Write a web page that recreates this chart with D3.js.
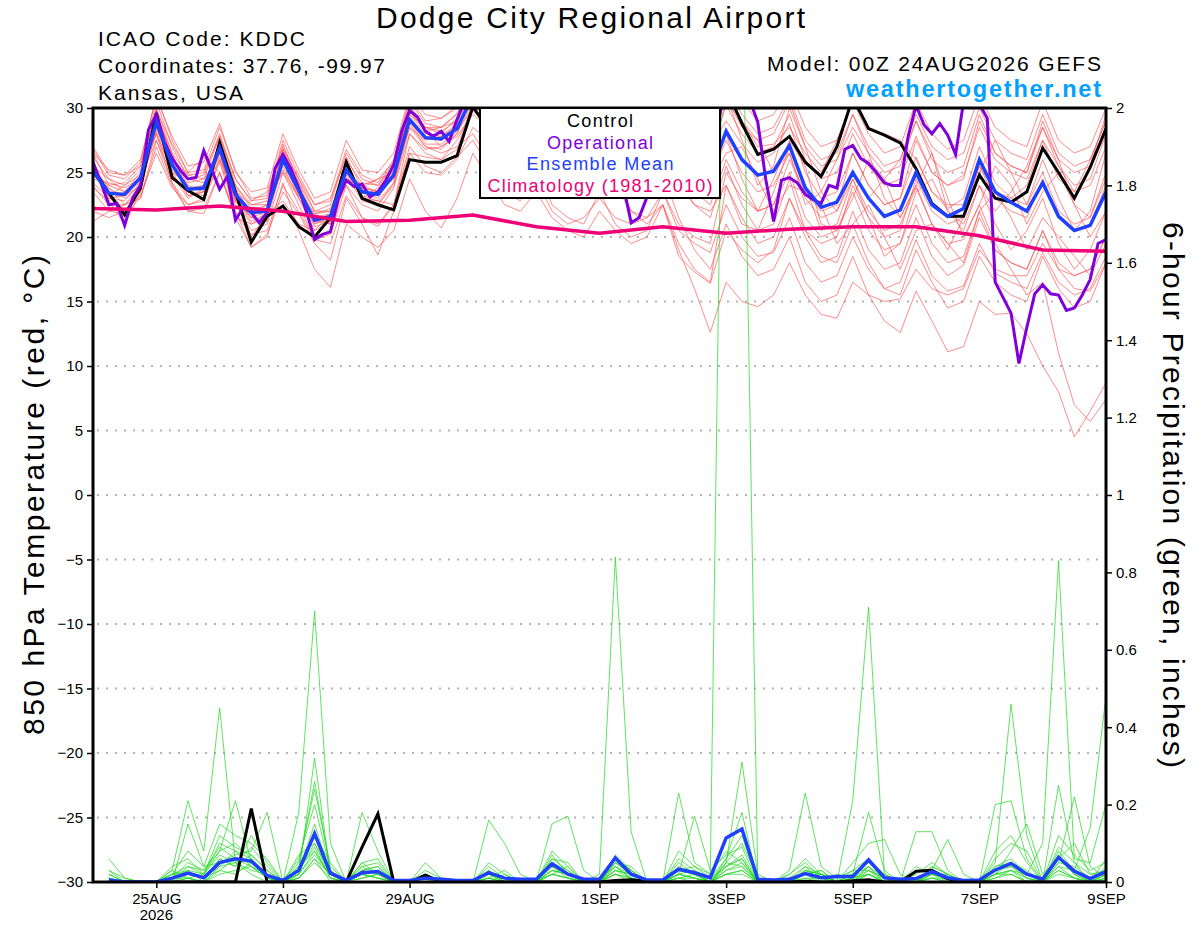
<!DOCTYPE html>
<html>
<head>
<meta charset="utf-8">
<script src="https://cdn.jsdelivr.net/npm/d3@7"></script>
<style>
  body { margin: 0; background: #fff; }
  svg { display: block; }
</style>
</head>
<body>
<svg id="chart" width="1200" height="927"></svg>
<script>
// ---- data (6-hourly from 00Z 24AUG2026, operational run is 3-hourly) ----
const dateTicks = ["2026-08-25", "2026-08-27", "2026-08-29", "2026-09-01", "2026-09-03", "2026-09-05", "2026-09-07", "2026-09-09"];

const ctrlTemp = [25.3,23.4,21.7,23.8, 29.6,24.6,23.6,22.9, 27.3,23.5,19.6,21.6, 22.4,20.8,20.0,21.5, 25.8,23.0,22.5,22.1, 26.0,25.8,25.8,26.3,
  30.1,28.3,31.0,32.0, 32.5,31.5,31.0,31.5, 32.0,31.0,30.5,31.0, 32.0,31.5,31.0,31.5,
  31.5,28.8,26.4,26.8, 27.8,25.8,24.7,27.0, 30.8,28.4,27.9,27.3, 25.3,22.6,21.6,21.6, 24.8,23.0,22.7,23.5, 26.9,25.0,23.0,25.4, 28.4];

const meanTemp = [25.1,23.4,23.3,24.6, 28.9,25.6,23.7,23.8, 26.9,23.3,21.9,22.0, 26.0,23.6,21.3,21.6, 25.2,23.5,23.3,24.8, 29.1,27.7,27.6,28.4,
  31.0,30.2,30.0,30.6, 31.2,30.0,29.5,29.8, 30.6,28.8,27.5,27.8, 29.5,27.0,25.8,24.8,
  28.2,26.0,24.8,25.1, 27.1,23.8,22.3,22.7, 25.0,23.0,21.6,22.1, 25.0,22.5,21.6,22.2, 26.0,23.5,22.7,22.0, 24.2,21.6,20.5,20.9, 23.5];

// operational, 3-hourly
const operTemp = [25.8,24.2,22.5,22.6,20.9,23.0,24.0,28.3,29.5,27.4,
  26.1,25.2,24.5,24.6,26.7,25.2,23.7,24.7,21.3,22.3,
  21.9,21.1,21.9,25.3,26.4,25.3,23.8,21.9,19.8,20.2,
  20.4,23.0,24.4,23.9,24.1,23.1,23.5,24.4,25.6,28.2,
  29.8,29.3,28.2,27.8,28.2,27.4,29.1,30.6,31.5,31.2,
  30.8,31.0,30.5,30.0,29.5,29.8,30.2,29.6,29.0,28.5,
  28.0,27.5,27.0,26.5,26.0,25.5,25.0,24.0,21.1,21.5,
  23.1,26.0,27.5,28.5,29.0,29.5,29.5,29.0,28.8,29.0,
  31.5,31.8,31.5,30.6,28.9,24.5,21.2,24.4,24.6,24.2,
  23.3,22.9,22.6,24.0,23.8,26.8,27.1,26.1,25.7,25.0,
  24.2,24.0,24.0,27.8,30.2,28.7,28.0,28.8,27.9,26.4,
  30.5,31.0,30.3,29.2,16.5,15.3,14.1,10.2,13.0,15.6,
  16.3,15.6,15.5,14.3,14.5,15.5,16.7,19.5,19.8];

// daily climatology 24AUG .. 9SEP
const climTemp = [22.2,22.1,22.4,22.0,21.2,21.3,21.7,20.8,20.3,20.8,20.3,20.6,20.8,20.8,20.1,19.0,18.9];

const ensTemp = [
  [26.5,24.0,24.2,25.5, 30.5,27.0,24.5,24.8, 28.0,24.5,22.8,23.0, 27.2,24.2,22.0,22.5, 26.5,24.5,24.0,25.8, 30.5,28.8,28.5,29.6,
   32.0,31.0,30.8,31.5, 32.5,31.0,30.5,30.8, 31.8,30.0,28.5,29.0, 30.8,28.2,27.0,26.5,
   30.2,28.0,26.5,27.0, 29.5,26.0,24.5,25.0, 28.0,25.5,24.0,24.5, 27.8,25.0,24.0,24.8, 28.5,26.0,25.0,24.5, 27.5,24.5,23.5,24.0, 27.0],
  [23.5,22.0,21.8,23.0, 27.0,24.0,22.0,22.2, 25.0,21.8,20.2,20.5, 24.0,22.0,19.8,19.5, 23.2,21.5,21.0,22.5, 27.0,25.5,25.0,26.2,
   27.5,25.5,23.5,22.8, 24.5,22.0,21.0,21.5, 23.0,21.5,21.0,21.5, 23.5,20.5,19.5,18.8,
   22.5,20.0,18.5,18.8, 21.5,18.0,16.5,17.0, 20.0,17.5,16.0,16.5, 19.8,17.0,15.8,16.2, 19.5,17.2,16.5,16.0, 18.8,16.5,15.5,16.0, 18.5],
  [26.0,22.8,21.0,23.5, 29.8,27.2,25.0,26.2, 25.0,21.5,21.0,21.5, 26.5,23.5,20.0,20.5, 24.5,24.0,23.5,25.0, 30.2,28.5,28.0,29.2,
   31.5,30.5,31.0,31.8, 32.2,31.5,30.8,31.0, 31.5,30.0,29.5,29.0, 30.5,29.0,27.5,27.0,
   29.0,27.2,25.8,26.5, 28.8,25.0,23.0,23.5, 26.5,24.0,22.5,23.0, 26.2,23.5,22.2,23.0, 27.0,24.2,23.0,22.5, 25.0,22.0,21.0,21.5, 24.5],
  [24.8,23.8,23.0,24.0, 28.2,25.0,23.2,23.5, 26.5,22.8,21.0,21.8, 25.5,23.0,20.5,21.2, 24.8,22.8,22.5,24.0, 28.5,27.0,26.8,28.0,
   30.5,29.5,29.2,30.0, 30.8,29.5,28.8,29.0, 30.0,28.0,26.5,27.0, 28.8,26.2,25.0,24.5,
   27.5,25.0,23.5,24.0, 26.5,23.0,21.5,22.0, 24.5,22.0,20.5,21.0, 23.8,21.0,19.5,19.8, 22.5,19.5,17.5,15.5, 16.5,11.0,7.0,5.7, 7.4],
  [25.5,24.5,24.0,24.8, 28.0,24.2,22.5,23.0, 26.0,22.5,20.5,21.0, 25.0,22.5,19.8,20.2, 24.0,21.5,20.8,22.5, 28.0,26.5,26.0,27.5,
   29.8,28.8,28.0,28.5, 29.5,28.0,27.5,27.0, 28.0,25.5,23.5,23.0, 25.0,21.5,19.0,17.5,
   21.0,18.5,17.0,17.5, 20.0,16.5,15.0,15.5, 18.5,15.5,13.5,12.6, 15.8,13.5,11.1,11.5, 15.0,14.0,14.1,12.5, 10.0,8.0,4.5,6.5, 8.7],
  [27.0,25.0,24.8,26.0, 30.8,27.8,25.5,25.8, 28.8,25.0,23.5,23.8, 28.0,25.2,23.0,23.5, 27.5,25.2,25.0,26.5, 31.0,29.5,29.2,30.2,
   33.0,32.0,31.5,32.2, 33.0,32.0,31.5,31.8, 32.8,31.5,30.5,30.8, 32.0,30.5,29.5,29.0,
   32.5,30.5,29.0,29.5, 31.5,28.5,27.0,27.5, 30.5,28.0,26.5,27.0, 30.5,28.0,26.8,27.5, 31.0,28.5,27.5,27.0, 30.5,27.5,26.5,27.0, 30.0],
  [22.0,21.5,22.0,23.2, 26.5,23.8,22.5,22.8, 25.8,22.0,19.2,20.0, 24.2,20.5,17.5,16.1, 21.0,20.0,19.2,20.5, 24.5,22.0,20.7,23.0,
   26.5,24.5,22.5,22.0, 23.5,21.5,20.5,20.0, 22.0,20.5,19.5,20.0, 22.5,19.5,17.5,16.5,
   24.0,21.5,19.5,20.0, 23.0,20.0,18.0,18.5, 22.0,19.0,17.5,18.0, 21.5,18.5,17.0,17.8, 21.5,19.0,18.0,17.5, 20.5,18.0,17.0,17.5, 20.0],
  [25.8,23.0,22.8,24.2, 29.5,26.2,24.0,23.5, 27.5,24.0,22.2,21.5, 26.8,24.0,21.0,21.8, 25.8,23.0,23.8,25.5, 29.8,28.2,27.0,28.0,
   31.5,30.8,30.2,31.0, 31.8,30.2,30.0,30.5, 31.2,29.0,27.8,28.2, 30.0,27.5,26.2,25.0,
   28.0,24.5,22.0,24.5, 27.5,25.5,21.0,20.5, 23.0,26.0,24.5,21.5, 24.0,26.5,23.0,20.0, 22.5,25.5,24.0,21.0, 23.5,25.0,22.5,20.0, 22.0],
  [24.0,22.5,22.5,24.0, 28.5,25.5,23.5,24.0, 27.0,23.0,21.5,22.5, 26.5,23.8,21.8,22.0, 25.5,23.0,22.8,24.2, 28.8,27.0,26.5,27.0,
   28.0,26.0,24.0,23.5, 25.5,22.5,21.5,21.0, 23.5,21.0,20.0,20.5, 23.5,21.0,20.0,19.5,
   25.0,23.0,22.0,22.5, 26.0,23.5,22.0,22.5, 26.5,24.0,22.5,23.0, 27.5,25.0,24.0,24.5, 29.0,26.5,25.5,25.0, 29.0,26.0,25.0,25.5, 29.5],
  [25.2,23.5,22.0,23.8, 29.2,24.8,23.5,23.0, 27.0,23.5,20.0,21.8, 22.8,21.0,20.5,21.8, 26.0,23.2,22.8,22.5, 26.5,26.2,26.0,26.8,
   30.5,29.0,31.0,31.5, 32.0,31.0,30.5,31.0, 31.5,30.5,30.0,30.5, 31.5,30.5,30.0,30.5,
   31.0,29.0,27.0,27.2, 28.5,26.5,25.0,27.5, 30.5,28.5,28.0,27.5, 26.0,23.5,22.5,22.5, 25.5,23.5,23.0,24.0, 27.5,25.5,23.5,26.0, 29.0],
  [24.5,24.2,23.8,24.5, 28.0,25.0,24.2,24.5, 26.2,22.8,22.0,22.5, 25.2,23.2,21.5,21.0, 24.5,23.8,23.5,24.5, 28.5,27.5,27.8,28.8,
   30.8,30.0,30.2,30.8, 31.0,30.0,29.2,29.5, 30.2,28.0,26.5,26.8, 28.5,25.5,23.5,22.5,
   26.0,23.5,22.0,22.5, 25.0,21.5,20.0,20.5, 23.5,20.5,19.0,19.5, 22.5,19.5,18.0,18.5, 22.0,19.0,18.0,17.5, 20.5,17.5,16.0,15.8, 18.0],
  [26.2,24.5,23.5,25.0, 30.0,26.5,23.5,23.2, 26.5,22.8,21.5,21.2, 25.8,23.2,21.8,22.2, 25.0,24.0,24.5,25.8, 29.5,28.5,28.2,29.0,
   31.2,30.5,30.5,31.0, 31.5,30.5,30.0,30.2, 31.0,29.5,28.0,28.5, 30.5,28.0,26.5,26.0,
   30.5,29.0,27.5,25.0, 26.5,22.5,23.5,26.0, 28.5,26.5,23.0,21.5, 24.0,21.0,19.0,21.5, 25.0,27.5,25.0,22.5, 26.0,23.0,20.5,22.0, 26.5],
  [23.8,22.8,23.5,24.5, 27.5,24.8,23.0,23.8, 26.0,23.5,22.5,22.8, 25.0,23.0,21.0,21.5, 24.0,22.5,22.0,23.8, 28.0,26.8,27.0,27.8,
   29.5,28.5,28.0,28.2, 29.0,27.5,26.5,26.0, 26.5,24.0,22.0,21.5, 22.5,19.0,16.0,12.6,
   16.5,15.0,14.6,15.5, 18.0,15.5,14.0,13.7, 16.5,15.5,15.0,15.2, 17.5,16.0,15.5,16.0, 19.0,17.5,17.0,17.0, 19.5,17.5,17.0,17.5, 20.0],
  [25.0,23.2,24.0,25.2, 29.0,26.0,24.5,24.2, 27.2,23.8,21.8,22.2, 26.2,24.2,21.2,21.0, 25.5,23.5,23.0,24.8, 29.0,27.2,27.2,28.2,
   30.0,29.5,29.0,29.5, 30.5,28.5,27.0,26.5, 27.5,25.0,22.0,21.0, 22.5,18.5,17.3,16.4,
   20.5,19.0,18.0,19.0, 23.0,20.5,19.5,20.0, 24.0,21.5,20.0,20.5, 24.5,22.0,21.0,21.5, 25.5,23.0,22.0,21.5, 24.5,21.5,20.5,21.0, 24.0],
  [26.8,24.8,24.5,25.8, 31.0,27.5,25.0,25.2, 28.5,25.2,23.0,23.2, 27.5,24.8,22.5,22.8, 26.8,24.8,24.2,26.0, 30.8,29.0,29.2,30.0,
   32.5,31.5,31.2,32.0, 32.8,31.5,31.0,31.2, 32.0,30.8,29.8,30.0, 31.5,29.8,28.8,28.5,
   31.5,29.5,28.0,28.5, 30.8,27.5,26.0,26.5, 29.5,27.0,25.5,26.0, 29.5,27.0,26.0,26.5, 30.0,27.5,26.5,26.0, 29.5,26.5,25.5,26.0, 29.0],
  [24.2,23.0,23.2,24.0, 28.5,25.2,23.8,24.0, 26.5,23.2,21.5,22.0, 26.0,23.5,20.8,21.2, 25.0,23.0,22.5,24.2, 29.2,27.8,27.5,28.5,
   30.5,29.8,29.5,30.0, 31.0,29.8,29.0,29.2, 30.0,28.5,27.0,27.5, 29.0,26.5,25.0,24.0,
   26.5,27.0,24.5,22.0, 24.0,23.5,22.5,19.5, 21.0,22.5,20.0,17.5, 20.5,21.0,19.5,18.0, 22.0,23.5,21.5,19.0, 21.5,20.0,18.5,17.0, 19.5],
  [25.5,23.8,22.5,23.5, 28.8,25.8,23.2,23.5, 26.8,23.0,21.2,21.8, 25.8,23.8,21.5,21.8, 25.2,23.8,23.5,25.2, 29.5,28.0,27.8,28.6,
   31.0,30.0,29.8,30.2, 31.0,29.5,28.5,28.8, 29.5,27.5,26.0,26.0, 27.5,24.5,22.5,21.5,
   25.5,22.5,20.5,21.0, 24.5,20.5,18.5,18.0, 21.0,18.0,16.0,15.5, 19.0,16.5,14.5,15.0, 18.5,16.5,15.5,15.0, 18.5,16.0,14.5,15.0, 18.0],
  [25.0,24.0,23.5,24.2, 29.5,26.5,24.8,25.0, 27.8,24.0,22.5,22.5, 26.8,24.5,22.0,22.0, 26.0,24.2,24.0,25.5, 30.0,28.5,28.5,29.5,
   32.0,31.0,31.0,31.8, 32.5,31.2,30.8,31.0, 32.0,30.5,29.5,29.8, 31.2,29.0,28.0,27.5,
   30.8,28.5,27.5,28.0, 30.5,27.0,25.5,26.0, 29.5,26.5,25.0,25.5, 29.0,26.0,25.0,25.5, 29.5,26.5,25.5,25.0, 28.5,25.5,24.0,24.5, 28.0],
  [21.2,22.0,22.5,23.0, 27.5,24.2,22.0,21.8, 25.0,21.5,19.2,20.2, 23.5,21.8,19.5,18.2, 23.0,21.0,18.6,22.0, 26.5,25.0,24.8,26.0,
   28.5,27.5,27.0,27.8, 29.0,27.2,26.5,26.8, 28.0,26.0,24.5,24.8, 26.5,24.0,22.5,22.0,
   24.0,21.0,20.5,23.5, 27.0,24.0,20.5,21.0, 24.5,21.5,18.5,19.5, 23.5,24.5,22.0,20.5, 24.0,21.0,19.0,20.5, 23.0,19.5,17.5,19.0, 22.0],
  [26.5,25.2,24.8,25.5, 29.8,26.0,24.8,24.5, 27.8,24.5,22.8,23.5, 27.0,24.5,22.5,23.0, 26.2,23.8,24.5,25.0, 29.8,28.2,28.5,29.0,
   31.8,30.8,30.5,31.2, 32.0,30.8,30.2,30.5, 31.2,29.8,28.8,29.0, 30.5,28.5,27.0,26.8,
   31.0,27.5,24.0,25.5, 30.0,27.0,23.5,22.0, 25.0,23.0,24.5,26.0, 29.0,26.5,22.0,21.0, 24.0,22.0,23.5,25.5, 28.5,26.0,22.5,21.5, 25.0]
];

// 6-hour precipitation (inches), first value is 06Z 24AUG
const ctrlPrecip = [0,0,0,0, 0,0,0,0, 0,0.19,0,0, 0,0,0,0,
  0.09,0.176,0,0, 0.018,0,0,0, 0,0,0,0, 0,0,0,0,
  0.004,0.006,0.002,0, 0,0,0,0, 0,0,0,0, 0.002,0,0,0.003,
  0.006,0,0,0.028, 0.03,0.008,0,0, 0,0,0,0, 0,0,0,0];

const meanPrecip = [0.005,0,0,0, 0.01,0.023,0.011,0.05, 0.06,0.054,0.017,0.004, 0.03,0.125,0.023,0.004,
  0.024,0.027,0.004,0.004, 0.01,0.007,0.004,0.004, 0.024,0.01,0.007,0.007, 0.047,0.02,0.007,0.007,
  0.062,0.02,0.005,0.005, 0.033,0.024,0.011,0.114, 0.137,0.007,0.005,0.007, 0.022,0.011,0.014,0.014,
  0.057,0.011,0.007,0.009, 0.027,0.011,0.004,0.005, 0.031,0.048,0.02,0.007, 0.064,0.028,0.009,0.027];

const ensPrecip = [
  [0.02,0,0,0, 0.03,0.21,0.08,0.45, 0.05,0.02,0,0, 0.01,0.06,0.02,0,
   0.02,0.03,0,0, 0,0,0,0, 0.03,0,0,0, 0.04,0.01,0,0,
   0.02,0.01,0,0, 0.05,0.02,0,0.02, 0.03,0,0,0, 0.04,0,0.02,0.01,
   0.03,0,0,0, 0.02,0.01,0,0, 0.05,0.46,0.12,0, 0.03,0.01,0,0.02],
  [0.01,0,0,0, 0,0.04,0.02,0.08, 0.10,0.06,0.02,0, 0.18,0.70,0.10,0,
   0.01,0.02,0,0, 0.02,0,0,0, 0,0.02,0,0, 0.06,0.03,0,0.02,
   0.84,0.13,0,0, 0.02,0.01,0,0.05, 0.04,0,0,0.01, 0,0.02,0,0,
   0.03,0.01,0,0, 0.04,0.02,0,0, 0.02,0.05,0.01,0, 0.08,0.03,0,0.01],
  [0,0,0,0, 0,0.01,0,0.03, 0.02,0.05,0.01,0, 0.02,0.08,0.01,0,
   0.04,0.02,0,0, 0,0.01,0,0, 0.02,0.01,0,0, 0.03,0.02,0,0,
   0.05,0.02,0,0, 0.03,0.04,0.02,2.9, 2.43,0.01,0,0, 0.02,0.03,0,0.01,
   0.02,0,0.01,0, 0.03,0,0,0, 0.02,0.03,0,0, 0.05,0.22,0.04,0.01],
  [0.03,0.01,0,0, 0.01,0.03,0,0.06, 0.04,0.07,0.03,0, 0.02,0.32,0.02,0,
   0.03,0.04,0,0, 0.01,0,0,0, 0.01,0,0,0, 0.05,0.02,0,0.01,
   0.04,0.01,0,0, 0.02,0.01,0,0.05, 0.31,0.02,0,0, 0.03,0.02,0,0.21,
   0.71,0.02,0,0, 0.01,0.01,0,0, 0.03,0.04,0.02,0, 0.06,0.02,0,0.04],
  [0,0,0,0, 0.02,0.02,0.01,0.04, 0.08,0.04,0.01,0, 0.04,0.26,0.03,0,
   0.02,0.01,0,0, 0,0,0,0, 0.16,0.10,0.02,0, 0.02,0.01,0,0,
   0.03,0.02,0,0, 0.01,0.02,0,0.04, 0.06,0,0,0.02, 0.05,0.01,0,0,
   0.04,0,0,0, 0.02,0,0,0, 0.01,0.03,0.02,0.10, 0.83,0.06,0.05,0.20],
  [0.01,0,0,0, 0.01,0.05,0.03,0.08, 0.21,0.05,0.02,0, 0.03,0.10,0.02,0,
   0.05,0.06,0,0, 0.01,0,0,0, 0.02,0,0,0, 0.02,0.04,0,0,
   0.06,0.03,0,0, 0.23,0.05,0.02,0.08, 0.05,0,0,0.03, 0.23,0.04,0.01,0.02,
   0.05,0.01,0,0, 0.03,0.01,0,0, 0.04,0.06,0.02,0, 0.04,0.03,0.14,0.48],
  [0,0,0,0, 0.03,0.01,0.02,0.07, 0.05,0.09,0.04,0, 0.05,0.24,0.04,0,
   0.03,0.02,0,0, 0.03,0.01,0,0, 0.02,0.01,0,0, 0.15,0.17,0.03,0,
   0.07,0.03,0,0, 0.04,0.02,0,0.06, 0.18,0,0,0.01, 0.02,0.02,0.01,0.03,
   0.06,0.02,0,0.13, 0.13,0.03,0,0, 0.20,0.21,0.06,0, 0.05,0.04,0.01,0.03],
  [0.02,0,0,0, 0,0.15,0.04,0.05, 0.07,0.08,0.18,0, 0.06,0.20,0.03,0,
   0.02,0.03,0,0, 0.02,0,0,0, 0.01,0.03,0,0, 0.07,0.02,0,0,
   0.05,0.04,0,0, 0.02,0.17,0.03,0.07, 0.09,0,0,0, 0.03,0.01,0,0.02,
   0.18,0.03,0,0, 0.02,0.02,0,0, 0.03,0.05,0.03,0, 0.25,0.05,0,0.02],
  [0,0,0,0, 0.01,0.02,0.01,0.03, 0.06,0.05,0.02,0, 0.03,0.15,0.02,0,
   0.18,0.08,0,0, 0.05,0.01,0,0, 0.03,0,0,0, 0.05,0.03,0,0,
   0.03,0.02,0,0, 0.02,0.03,0.01,0.04, 0.07,0,0,0.01, 0.04,0.02,0,0.01,
   0.04,0,0,0.01, 0.03,0.11,0.02,0, 0.02,0.08,0.15,0.02, 0.06,0.10,0.02,0.03],
  [0.06,0.01,0,0, 0.02,0.03,0.02,0.10, 0.08,0.06,0.02,0, 0.02,0.12,0.05,0,
   0.04,0.05,0,0, 0,0,0,0, 0.05,0.02,0,0, 0.03,0.02,0,0,
   0.04,0.01,0,0, 0.03,0.02,0,0.03, 0.05,0,0,0, 0.02,0.03,0,0.05,
   0.10,0.11,0.02,0, 0.04,0.02,0,0, 0.03,0.04,0.01,0, 0.07,0.02,0,0.06],
  [0.01,0,0,0, 0.04,0.06,0.02,0.12, 0.09,0.07,0.03,0, 0.04,0.08,0.02,0,
   0.03,0.04,0,0, 0.01,0,0,0, 0.02,0,0,0, 0.06,0.05,0,0,
   0.05,0.02,0,0, 0.06,0.03,0,0.05, 0.10,0.01,0,0.02, 0.06,0.02,0,0.03,
   0.03,0.01,0,0.04, 0.02,0.01,0,0, 0.08,0.12,0.05,0, 0.09,0.05,0.02,0.02],
  [0,0,0,0, 0.02,0.08,0.04,0.15, 0.12,0.10,0.06,0, 0.07,0.10,0.02,0,
   0.05,0.02,0,0, 0.02,0,0,0, 0.04,0.01,0,0, 0.08,0.04,0,0,
   0.06,0.03,0,0, 0.08,0.04,0.01,0.06, 0.12,0,0,0, 0.03,0.02,0,0.02,
   0.05,0.02,0,0.02, 0.05,0.02,0,0, 0.06,0.10,0.08,0, 0.12,0.07,0.03,0.05],
  [0,0,0,0, 0.01,0.01,0,0.02, 0.03,0.04,0.01,0, 0.01,0.05,0.01,0,
   0.01,0.02,0,0, 0,0,0,0, 0.01,0,0,0, 0.02,0.01,0,0,
   0.02,0,0,0, 0.01,0.01,0,0.02, 0.03,0,0,0, 0.01,0.01,0,0,
   0.02,0,0,0, 0.01,0,0,0, 0.01,0.02,0,0, 0.03,0.01,0,0.01],
  [0.03,0,0,0, 0,0.02,0.01,0.06, 0.04,0.12,0.05,0, 0.03,0.09,0.01,0,
   0.02,0.01,0,0, 0.01,0,0,0, 0,0,0,0, 0.04,0.02,0,0,
   0.03,0.01,0,0, 0.02,0.01,0,0.03, 0.04,0,0,0, 0.02,0,0,0.01,
   0.02,0,0,0, 0.02,0.01,0,0, 0.02,0.03,0.01,0, 0.04,0.01,0,0.02],
  [0,0,0,0, 0.02,0.04,0.03,0.09, 0.06,0.04,0.02,0, 0.02,0.07,0.02,0,
   0.03,0.02,0,0, 0,0,0,0, 0.02,0.01,0,0, 0.03,0.02,0,0,
   0.04,0.02,0,0, 0.03,0.02,0,0.04, 0.06,0,0,0, 0.02,0.01,0,0.02,
   0.04,0.01,0,0, 0.03,0.01,0,0, 0.04,0.05,0.02,0, 0.06,0.02,0,0.03],
  [0.01,0,0,0, 0,0.01,0,0.04, 0.05,0.03,0.02,0, 0.01,0.06,0,0,
   0.02,0.01,0,0, 0,0,0,0, 0.01,0,0,0, 0.02,0.01,0,0,
   0.02,0.01,0,0, 0.01,0,0,0.02, 0.02,0,0,0, 0.01,0,0,0,
   0.02,0,0,0, 0.01,0,0,0, 0.02,0.02,0,0, 0.02,0.01,0,0.01]
];

const legendItems = [
  { label: "Control", color: "#000000", len: 66 },
  { label: "Operational", color: "#8000dc", len: 106 },
  { label: "Ensemble Mean", color: "#2040ff", len: 147 },
  { label: "Climatology (1981-2010)", color: "#ee0077", len: 225 }
];

// ---- layout ----
const font = "'Liberation Sans', Arial, Helvetica, sans-serif";
const plot = { left: 93, right: 1106, top: 108, bottom: 882 };

const svg = d3.select("#chart").attr("font-family", font);

const hour = 3600 * 1000;
const t0 = Date.UTC(2026, 7, 24, 0);
const at = (step, h) => new Date(t0 + step * h * hour);

const x = d3.scaleUtc()
  .domain([at(0, 1), at(384, 1)])
  .range([plot.left, plot.right]);

const yT = d3.scaleLinear().domain([-30, 30]).range([plot.bottom, plot.top]);
const yP = d3.scaleLinear().domain([0, 2]).range([plot.bottom, plot.top]);

svg.append("defs").append("clipPath").attr("id", "plotclip")
  .append("rect")
  .attr("x", plot.left).attr("y", plot.top)
  .attr("width", plot.right - plot.left).attr("height", plot.bottom - plot.top);

// dotted grid
svg.append("g").selectAll("line")
  .data(d3.range(-25, 26, 5))
  .enter().append("line")
  .attr("x1", plot.left + 4).attr("x2", plot.right)
  .attr("y1", d => yT(d)).attr("y2", d => yT(d))
  .attr("stroke", "#b4b4b4")
  .attr("stroke-width", 2)
  .attr("stroke-dasharray", "2,7");

const lineT6 = d3.line().x((d, i) => x(at(i, 6))).y(d => yT(d));
const lineT3 = d3.line().x((d, i) => x(at(i, 3))).y(d => yT(d));
const lineClim = d3.line().x((d, i) => x(at(i, 24))).y(d => yT(d));
const lineP = d3.line().x((d, i) => x(at(i + 1, 6))).y(d => yP(d));

const lines = svg.append("g").attr("clip-path", "url(#plotclip)");

lines.selectAll("path.ens_t")
  .data(ensTemp)
  .enter().append("path")
  .attr("class", "ens_t")
  .attr("d", lineT6)
  .attr("fill", "none")
  .attr("stroke", "#ff4a4a")
  .attr("stroke-opacity", 0.8)
  .attr("stroke-width", 0.8);

lines.selectAll("path.ens_p")
  .data(ensPrecip)
  .enter().append("path")
  .attr("class", "ens_p")
  .attr("d", lineP)
  .attr("fill", "none")
  .attr("stroke", "#22d822")
  .attr("stroke-opacity", 0.9)
  .attr("stroke-width", 0.8);

function thick(data, gen, color, w) {
  lines.append("path")
    .datum(data)
    .attr("d", gen)
    .attr("fill", "none")
    .attr("stroke", color)
    .attr("stroke-width", w)
    .attr("stroke-linejoin", "miter");
}

thick(ctrlPrecip, lineP, "#000000", 3);
thick(meanPrecip, lineP, "#2040ff", 3.5);
thick(ctrlTemp, lineT6, "#000000", 3);
thick(operTemp, lineT3, "#8000dc", 3);
thick(meanTemp, lineT6, "#2040ff", 3.5);
thick(climTemp, lineClim, "#ee0077", 3.5);

// ---- axes ----
function styleAxis(g) {
  g.attr("font-size", 15).attr("font-family", font);
  g.select(".domain").remove();
  g.selectAll(".tick line").attr("stroke", "#000").attr("stroke-width", 1.5);
  g.selectAll(".tick text").attr("fill", "#000");
}

svg.append("g")
  .attr("transform", "translate(" + plot.left + ",0)")
  .call(d3.axisLeft(yT).tickValues(d3.range(-30, 31, 5)).tickSize(6).tickPadding(4))
  .call(styleAxis);

svg.append("g")
  .attr("transform", "translate(" + plot.right + ",0)")
  .call(d3.axisRight(yP)
    .tickValues(d3.range(0, 11).map(k => k * 0.2))
    .tickFormat(d => String(+d.toFixed(1)))
    .tickSize(6).tickPadding(4))
  .call(styleAxis);

const fmtDay = d3.utcFormat("%-d%b");
const tickDates = dateTicks.map(s => new Date(s + "T00:00:00Z"));

svg.append("g")
  .attr("transform", "translate(0," + plot.bottom + ")")
  .call(d3.axisBottom(x).tickValues(tickDates)
    .tickFormat(d => fmtDay(d).toUpperCase())
    .tickSize(6).tickPadding(5))
  .call(styleAxis);

svg.append("text")
  .attr("x", x(tickDates[0])).attr("y", 920)
  .attr("text-anchor", "middle")
  .attr("font-size", 15)
  .text("2026");

// frame
svg.append("rect")
  .attr("x", plot.left).attr("y", plot.top)
  .attr("width", plot.right - plot.left).attr("height", plot.bottom - plot.top)
  .attr("fill", "none").attr("stroke", "#000").attr("stroke-width", 3);

// ---- legend ----
const legend = svg.append("g");
legend.append("rect")
  .attr("x", 480).attr("y", plot.top)
  .attr("width", 240).attr("height", 90)
  .attr("fill", "#fff").attr("stroke", "#000").attr("stroke-width", 2);

legend.selectAll("text")
  .data(legendItems)
  .enter().append("text")
  .attr("x", 600)
  .attr("y", (d, i) => 127 + i * 21.5)
  .attr("text-anchor", "middle")
  .attr("font-size", 18)
  .attr("fill", d => d.color)
  .attr("textLength", d => d.len)
  .attr("lengthAdjust", "spacing")
  .text(d => d.label);

// ---- titles ----
function label(txt, xPos, yPos, size, len, opts) {
  const t = svg.append("text")
    .attr("x", xPos).attr("y", yPos)
    .attr("font-size", size)
    .attr("textLength", len)
    .attr("lengthAdjust", "spacing")
    .text(txt);
  if (opts) Object.keys(opts).forEach(k => t.attr(k, opts[k]));
  return t;
}

label("Dodge City Regional Airport", 376, 28, 30, 429);
label("ICAO Code: KDDC", 98, 46, 21, 207);
label("Coordinates: 37.76, -99.97", 98, 73, 21, 287);
label("Kansas, USA", 98, 99.5, 21, 145);
label("Model: 00Z 24AUG2026 GEFS", 767, 71, 21, 334);
label("weathertogether.net", 846, 97, 23.5, 255, { "font-weight": "bold", "fill": "#00a0ff" });

label("850 hPa Temperature (red, \u00B0C)", 0, 0, 30, 480,
  { "text-anchor": "middle", "transform": "translate(43.5,495) rotate(-90)" });
label("6-hour Precipitation (green, inches)", 0, 0, 30, 546,
  { "text-anchor": "middle", "transform": "translate(1163,495) rotate(90)" });
</script>
</body>
</html>
